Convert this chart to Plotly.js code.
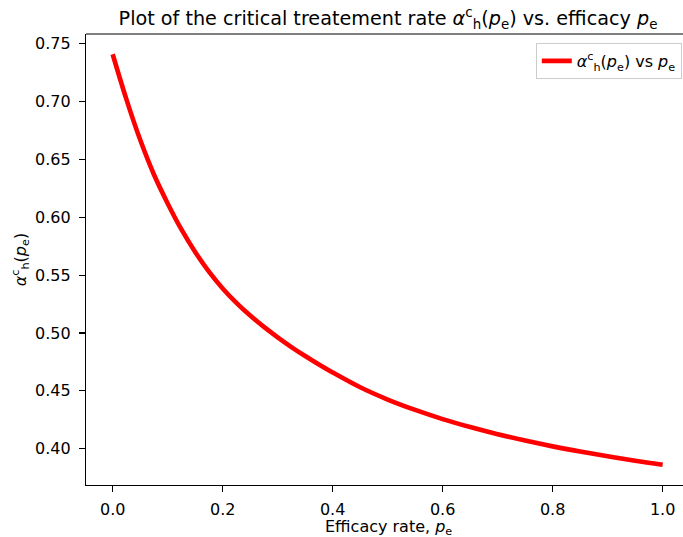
<!DOCTYPE html>
<html>
<head>
<meta charset="utf-8">
<script src="https://cdn.plot.ly/plotly-3.0.1.min.js"></script>
<style>html,body{margin:0;padding:0;overflow:hidden;background:#fff;}</style>
</head>
<body>
<div id="chart" style="width:683px;height:537px;"></div>
<script>
// Efficacy rate p_e
const efficacy = [0, 0.025, 0.05, 0.075, 0.1, 0.125, 0.15, 0.175, 0.2, 0.225, 0.25, 0.275, 0.3, 0.325, 0.35, 0.375, 0.4,
                  0.45, 0.5, 0.55, 0.6, 0.65, 0.7, 0.75, 0.8, 0.85, 0.9, 0.95, 1.0];
// Critical treatment rate alpha_h^c(p_e)
const criticalRate = [0.741, 0.702, 0.667, 0.637, 0.612, 0.5895, 0.5700, 0.5530, 0.5385, 0.5260, 0.5150, 0.5052, 0.4962, 0.4878, 0.4800, 0.4727, 0.4658,
                      0.4530, 0.4424, 0.4334, 0.4255, 0.4186, 0.4124, 0.4069, 0.4019, 0.3974, 0.3933, 0.3895, 0.3860];
const xTicks = [0.0, 0.2, 0.4, 0.6, 0.8, 1.0];
const xTickLabels = ['0.0', '0.2', '0.4', '0.6', '0.8', '1.0'];
const yTicks = [0.40, 0.45, 0.50, 0.55, 0.60, 0.65, 0.70, 0.75];
const yTickLabels = ['0.40', '0.45', '0.50', '0.55', '0.60', '0.65', '0.70', '0.75'];

const font = {family: 'DejaVu Sans, sans-serif', size: 16, color: '#000'};

const trace = {
  x: efficacy,
  y: criticalRate,
  type: 'scatter',
  mode: 'lines',
  line: {color: '#ff0000', width: 4.6, shape: 'spline', smoothing: 1},
  name: '<i>α</i><sup>c</sup><sub>h</sub>(<i>p</i><sub>e</sub>) vs <i>p</i><sub>e</sub>'
};

const layout = {
  width: 683,
  height: 537,
  margin: {l: 86, r: 0, t: 34, b: 52, pad: 0},
  paper_bgcolor: '#fff',
  plot_bgcolor: '#fff',
  font: font,
  showlegend: true,
  title: {
    text: 'Plot of the critical treatement rate <i>α</i><sup>c</sup><sub>h</sub>(<i>p</i><sub>e</sub>) vs. efficacy <i>p</i><sub>e</sub>',
    font: {family: 'DejaVu Sans, sans-serif', size: 19.2, color: '#000'},
    xref: 'container', x: 388 / 683, xanchor: 'center',
    yref: 'container', y: 1 - 18 / 537, yanchor: 'middle'
  },
  xaxis: {
    range: [-0.0485, 1.037],
    tickvals: xTicks, ticktext: xTickLabels,
    ticks: 'outside', ticklen: 6, tickwidth: 1.2, tickcolor: '#000',
    ticklabelstandoff: 4,
    showline: true, linecolor: '#000', linewidth: 1.2, mirror: false,
    showgrid: false, zeroline: false,
    tickfont: font,
    title: {text: ''}
  },
  yaxis: {
    range: [0.3685, 0.7585],
    tickvals: yTicks, ticktext: yTickLabels,
    ticks: 'outside', ticklen: 6, tickwidth: 1.2, tickcolor: '#000',
    ticklabelstandoff: 5,
    showline: true, linecolor: '#000', linewidth: 1.2, mirror: false,
    showgrid: false, zeroline: false,
    tickfont: font,
    title: {text: '<i>α</i><sup>c</sup><sub>h</sub>(<i>p</i><sub>e</sub>)', font: font, standoff: 4}
  },
  annotations: [
    {text: 'Efficacy rate, <i>p</i><sub>e</sub>', xref: 'paper', yref: 'paper',
     x: (388 - 86) / 597, y: -(527 - 485) / 451, xanchor: 'center', yanchor: 'middle',
     showarrow: false, font: font}
  ],
  shapes: [
    {type: 'line', xref: 'paper', yref: 'paper', x0: 0, x1: 1, y0: 1, y1: 1,
     line: {color: '#000', width: 1.2}}
  ],
  legend: {
    x: 0.998, xanchor: 'right', y: 0.98, yanchor: 'top',
    bgcolor: 'rgba(255,255,255,0.8)', bordercolor: '#cccccc', borderwidth: 1,
    font: font
  }
};

Plotly.newPlot('chart', [trace], layout, {displayModeBar: false, staticPlot: true});
</script>
</body>
</html>
